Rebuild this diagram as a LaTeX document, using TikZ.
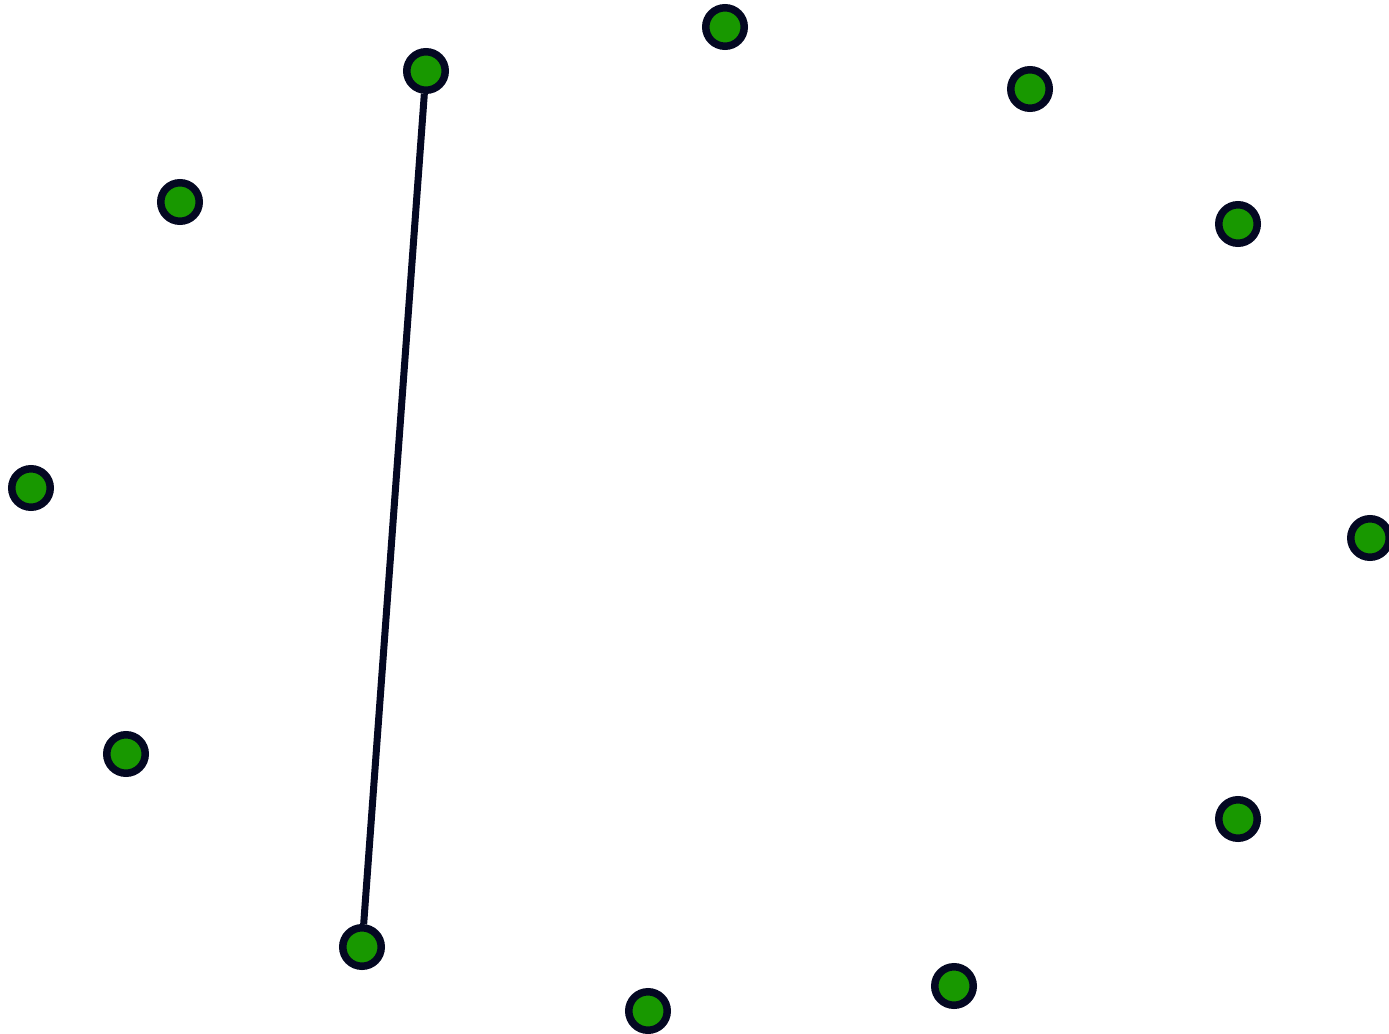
\documentclass[tikz,border=0pt]{standalone}
\usepackage{tikz}
\definecolor{dotG}{RGB}{24,152,0}
\definecolor{inkN}{RGB}{4,8,34}

\begin{document}
\begin{tikzpicture}[x=0.02cm, y=-0.02cm,
  vert/.style={circle, draw=inkN, fill=dotG, line width=0.15cm,
               minimum size=0.77cm, inner sep=0pt},
  link/.style={draw=inkN, line width=0.14cm}]
  \useasboundingbox (0,0) rectangle (1389,1034);
  \node[vert] (v1)  at (426,71)   {};
  \node[vert] (v2)  at (725,27)   {};
  \node[vert] (v3)  at (1030,89)  {};
  \node[vert] (v4)  at (1238,224) {};
  \node[vert] (v5)  at (1370,538) {};
  \node[vert] (v6)  at (1238,819) {};
  \node[vert] (v7)  at (954,986)  {};
  \node[vert] (v8)  at (648,1011) {};
  \node[vert] (v9)  at (362,947)  {};
  \node[vert] (v10) at (126,754)  {};
  \node[vert] (v11) at (31,488)   {};
  \node[vert] (v12) at (180,202)  {};

  \draw[link] (v1) -- (v9);
\end{tikzpicture}
\end{document}
